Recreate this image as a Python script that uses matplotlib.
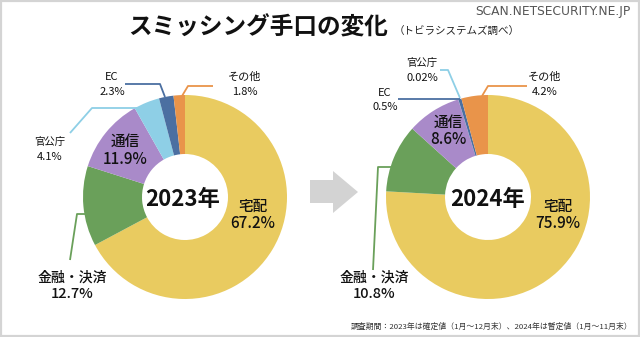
import matplotlib
matplotlib.use("Agg")
import matplotlib.pyplot as plt
from matplotlib.patches import Polygon, Rectangle

plt.rcParams['font.family'] = ['Noto Sans CJK JP', 'DejaVu Sans']

# ---- data ----
categories = ['宅配', '金融・決済', '通信', '官公庁', 'EC', 'その他']
values_2023 = [67.2, 12.7, 11.9, 4.1, 2.3, 1.8]
values_2024 = [75.9, 10.8, 8.6, 0.02, 0.5, 4.2]
labels_2023 = ['67.2%', '12.7%', '11.9%', '4.1%', '2.3%', '1.8%']
labels_2024 = ['75.9%', '10.8%', '8.6%', '0.02%', '0.5%', '4.2%']
years = ['2023年', '2024年']
colors = ['#E9CB60', '#6AA05A', '#A98AC9', '#8ECFE6', '#4B6FA1', '#E9944A']

W, H = 640, 337
fig = plt.figure(figsize=(W / 100, H / 100), dpi=100)
ax = fig.add_axes([0, 0, 1, 1])

def Y(y):
    return H - y

R = 102
INNER = 43
centers = [(185, 197), (488, 197)]

for vals, (cx, cy) in zip([values_2023, values_2024], centers):
    ax.pie(vals, colors=colors, startangle=90, counterclock=False,
           radius=R, center=(cx, Y(cy)), frame=True,
           wedgeprops=dict(width=R - INNER, linewidth=0))

ax.set_xlim(0, W)
ax.set_ylim(0, H)
ax.set_aspect('equal')
ax.axis('off')

# border
ax.add_patch(Rectangle((1, 1), W - 2, H - 2, fill=False, edgecolor='#d4d4d4', lw=1.6))

# arrow
arrow = [(310, 180), (333, 180), (333, 171), (358, 192), (333, 213), (333, 203), (310, 203)]
ax.add_patch(Polygon([(x, Y(y)) for x, y in arrow], closed=True, facecolor='#d3d3d3', edgecolor='none'))

# titles
ax.text(128, Y(28), 'スミッシング手口の変化', fontsize=17, fontweight='bold', ha='left', va='center', color='#111111')
ax.text(394, Y(31), '（トビラシステムズ調べ）', fontsize=7.6, ha='left', va='center', color='#222222')
ax.text(631, Y(12), 'SCAN.NETSECURITY.NE.JP', fontsize=8.8, ha='right', va='center', color='#555555',
        family=['Liberation Sans Narrow', 'DejaVu Sans'])
ax.text(632, Y(327), '調査期間：2023年は確定値（1月～12月末）、2024年は暫定値（1月～11月末）',
        fontsize=5.65, ha='right', va='center', color='#333333')

def line(pts, color):
    ax.plot([p[0] for p in pts], [Y(p[1]) for p in pts], color=color, lw=1.3, solid_capstyle='butt')

def label(x, y1, y2, name, val, size_name, size_val, weight='normal'):
    ax.text(x, Y(y1), name, fontsize=size_name, ha='center', va='center', fontweight=weight, color='#111111')
    ax.text(x, Y(y2), val, fontsize=size_val, ha='center', va='center', fontweight=weight, color='#111111')

# ---- left chart labels ----
L = labels_2023
label(253, 207, 224, categories[0], L[0], 10.5, 11, 'medium')
label(72, 278, 294, categories[1], L[1], 10, 10.5, 'medium')
label(125, 142, 160, categories[2], L[2], 10.5, 11, 'medium')
label(50, 142, 157, categories[3], L[3], 7.5, 8)
label(112, 77, 92, categories[4], L[4], 8, 8)
label(245, 77, 92, categories[5], L[5], 8, 8)
ax.text(183, Y(200), years[0], fontsize=16, fontweight='bold', ha='center', va='center', color='#111111')

line([(70, 260), (77, 214), (86, 214)], colors[1])
line([(70, 133), (92, 108), (137, 108)], colors[3])
line([(125, 84), (160, 84), (165, 97)], colors[4])
line([(213, 86), (188, 86), (182, 96)], colors[5])

# ---- right chart labels ----
L = labels_2024
label(558, 207, 224, categories[0], L[0], 10.5, 11, 'medium')
label(374, 278, 294, categories[1], L[1], 10, 10.5, 'medium')
label(448, 123, 140, categories[2], L[2], 10.5, 11, 'medium')
label(422, 63, 78, categories[3], L[3], 7.5, 8)
label(385, 93, 107, categories[4], L[4], 8, 8)
label(545, 77, 92, categories[5], L[5], 8, 8)
ax.text(488, Y(200), years[1], fontsize=16, fontweight='bold', ha='center', va='center', color='#111111')

line([(373, 270), (378, 167), (392, 167)], colors[1])
line([(440, 70), (448, 70), (460, 98)], colors[3])
line([(398, 99), (460, 99)], colors[4])
line([(527, 86), (488, 86), (482, 96)], colors[5])

fig.savefig('out.png', dpi=100)
